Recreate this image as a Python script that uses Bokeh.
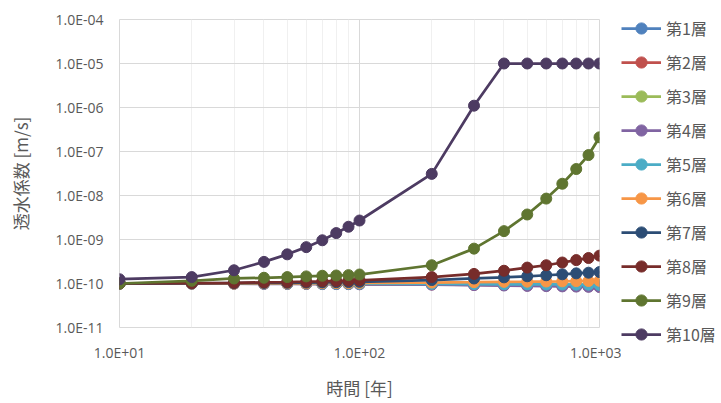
from bokeh.plotting import figure
from bokeh.models import (FixedTicker, CustomJSTickFormatter, Legend, LegendItem, Range1d)
from bokeh.layouts import row, column
from bokeh.embed import file_html
from bokeh.resources import INLINE

years = [10, 20, 30, 40, 50, 60, 70, 80, 90, 100, 200, 300, 400, 500, 600, 700, 800, 900, 1000]

layer1 = [1.0e-10, 1.0e-10, 1.0e-10, 1.0e-10, 0.99e-10, 0.99e-10, 0.99e-10, 0.99e-10, 0.99e-10, 0.98e-10,
          0.97e-10, 0.96e-10, 0.95e-10, 0.94e-10, 0.93e-10, 0.92e-10, 0.91e-10, 0.91e-10, 0.90e-10]
layer2 = [1.0e-10, 1.0e-10, 0.99e-10, 0.99e-10, 0.99e-10, 0.98e-10, 0.98e-10, 0.98e-10, 0.97e-10, 0.97e-10,
          0.95e-10, 0.93e-10, 0.92e-10, 0.90e-10, 0.89e-10, 0.88e-10, 0.87e-10, 0.86e-10, 0.85e-10]
layer3 = [1.0e-10, 1.0e-10, 1.0e-10, 1.0e-10, 0.99e-10, 0.99e-10, 0.99e-10, 0.99e-10, 0.98e-10, 0.98e-10,
          0.97e-10, 0.96e-10, 0.95e-10, 0.94e-10, 0.93e-10, 0.92e-10, 0.91e-10, 0.90e-10, 0.90e-10]
layer4 = [1.0e-10, 0.99e-10, 0.99e-10, 0.98e-10, 0.98e-10, 0.98e-10, 0.97e-10, 0.97e-10, 0.97e-10, 0.96e-10,
          0.94e-10, 0.92e-10, 0.90e-10, 0.88e-10, 0.87e-10, 0.86e-10, 0.85e-10, 0.84e-10, 0.83e-10]
layer5 = [1.0e-10, 1.0e-10, 1.0e-10, 1.0e-10, 1.0e-10, 1.0e-10, 0.99e-10, 0.99e-10, 0.99e-10, 0.99e-10,
          0.98e-10, 0.97e-10, 0.96e-10, 0.96e-10, 0.95e-10, 0.95e-10, 0.94e-10, 0.94e-10, 0.93e-10]
layer6 = [1.0e-10, 1.0e-10, 1.0e-10, 1.01e-10, 1.01e-10, 1.01e-10, 1.02e-10, 1.02e-10, 1.02e-10, 1.03e-10,
          1.05e-10, 1.07e-10, 1.09e-10, 1.10e-10, 1.11e-10, 1.12e-10, 1.13e-10, 1.14e-10, 1.15e-10]
layer7 = [1.0e-10, 1.01e-10, 1.02e-10, 1.03e-10, 1.04e-10, 1.05e-10, 1.06e-10, 1.07e-10, 1.08e-10, 1.09e-10,
          1.2e-10, 1.3e-10, 1.38e-10, 1.46e-10, 1.54e-10, 1.62e-10, 1.7e-10, 1.76e-10, 1.82e-10]
layer8 = [1.0e-10, 1.02e-10, 1.04e-10, 1.06e-10, 1.08e-10, 1.1e-10, 1.12e-10, 1.14e-10, 1.16e-10, 1.18e-10,
          1.4e-10, 1.65e-10, 1.95e-10, 2.3e-10, 2.6e-10, 3.0e-10, 3.4e-10, 3.8e-10, 4.3e-10]
layer9 = [1.0e-10, 1.15e-10, 1.3e-10, 1.35e-10, 1.4e-10, 1.45e-10, 1.5e-10, 1.52e-10, 1.55e-10, 1.6e-10,
          2.6e-10, 6.2e-10, 1.55e-9, 3.7e-9, 8.5e-9, 1.85e-8, 4.0e-8, 8.3e-8, 2.1e-7]
layer10 = [1.25e-10, 1.4e-10, 2.0e-10, 3.1e-10, 4.6e-10, 6.7e-10, 9.6e-10, 1.4e-9, 1.95e-9, 2.7e-9,
           3.1e-8, 1.1e-6, 1.0e-5, 1.0e-5, 1.0e-5, 1.0e-5, 1.0e-5, 1.0e-5, 1.0e-5]

series_names = ["第1層", "第2層", "第3層", "第4層", "第5層", "第6層", "第7層", "第8層", "第9層", "第10層"]
series_values = [layer1, layer2, layer3, layer4, layer5, layer6, layer7, layer8, layer9, layer10]
colors = ["#4F81BD", "#C0504D", "#9BBB59", "#8064A2", "#4BACC6",
          "#F79646", "#2C4D75", "#772C2A", "#5F7530", "#4D3B62"]

x_major = [10, 100, 1000]
x_minor = [20, 30, 40, 50, 60, 70, 80, 90, 200, 300, 400, 500, 600, 700, 800, 900]
y_major = [1e-11, 1e-10, 1e-9, 1e-8, 1e-7, 1e-6, 1e-5, 1e-4]

TXT = "#595959"
JP = "Noto Sans CJK JP"
NUM = "Open Sans"

# ---------------- main chart ----------------
p = figure(width=621, height=402, x_axis_type="log", y_axis_type="log",
           x_range=Range1d(10, 1000), y_range=Range1d(1e-11, 1e-4),
           output_backend="svg", toolbar_location=None,
           min_border_left=119, min_border_right=22, min_border_top=19, min_border_bottom=70)
p.background_fill_color = "white"
p.border_fill_color = "white"
p.outline_line_color = "#D9D9D9"

fmt = CustomJSTickFormatter(code="""
const e = Math.round(Math.log10(tick));
const s = e < 0 ? '-' : '+';
return '1.0E' + s + String(Math.abs(e)).padStart(2, '0');
""")

p.xaxis.ticker = FixedTicker(ticks=x_major, minor_ticks=x_minor)
p.yaxis.ticker = FixedTicker(ticks=y_major)
for ax in (p.xaxis, p.yaxis):
    ax.formatter = fmt
    ax.axis_line_color = None
    ax.major_tick_line_color = None
    ax.minor_tick_line_color = None
    ax.major_tick_out = 0
    ax.major_tick_in = 0
    ax.minor_tick_out = 0
    ax.minor_tick_in = 0
    ax.major_label_text_font = NUM
    ax.major_label_text_font_size = "14px"
    ax.major_label_text_color = TXT
    ax.axis_label_text_font = JP
    ax.axis_label_text_color = TXT
    ax.axis_label_text_font_style = "normal"
    ax.axis_label_text_font_size = "17px"
p.yaxis.major_label_standoff = 16
p.xaxis.major_label_standoff = 15
p.xaxis.axis_label = "時間 [年]"
p.yaxis.axis_label = "透水係数 [m/s]"
p.xaxis.axis_label_standoff = 10
p.yaxis.axis_label_standoff = 20

p.xgrid.grid_line_color = "#D9D9D9"
p.xgrid.minor_grid_line_color = "#F0F0F0"
p.ygrid.grid_line_color = "#D9D9D9"

for name, vals, c in zip(series_names, series_values, colors):
    p.line(years, vals, line_color=c, line_width=2.75)
    p.scatter(years, vals, size=11, fill_color=c, line_color=c)

# ---------------- legend panel ----------------
lg = figure(width=99, height=402, x_range=Range1d(0, 1), y_range=Range1d(0, 1),
            output_backend="svg", toolbar_location=None,
            min_border_left=0, min_border_right=0, min_border_top=14, min_border_bottom=0)
lg.axis.visible = False
lg.grid.visible = False
lg.outline_line_color = None
lg.background_fill_color = "white"
lg.border_fill_color = "white"

items = []
for name, vals, c in zip(series_names, series_values, colors):
    # same series, outside the legend panel's ranges: only the legend entries show
    r1 = lg.line(years, vals, line_color=c, line_width=2.75)
    r2 = lg.scatter(years, vals, size=11, fill_color=c, line_color=c)
    items.append(LegendItem(label=name, renderers=[r1, r2]))

legend = Legend(items=items, location="top_left", orientation="vertical",
                glyph_width=40, glyph_height=28, label_height=18, spacing=6,
                label_standoff=5, padding=0, margin=0,
                border_line_color=None, background_fill_alpha=0,
                label_text_font=JP, label_text_font_size="16px", label_text_color=TXT)
lg.add_layout(legend, "center")

layout = row(p, column(lg, spacing=0), spacing=0)
open("out.html", "w").write(file_html(layout, INLINE))
